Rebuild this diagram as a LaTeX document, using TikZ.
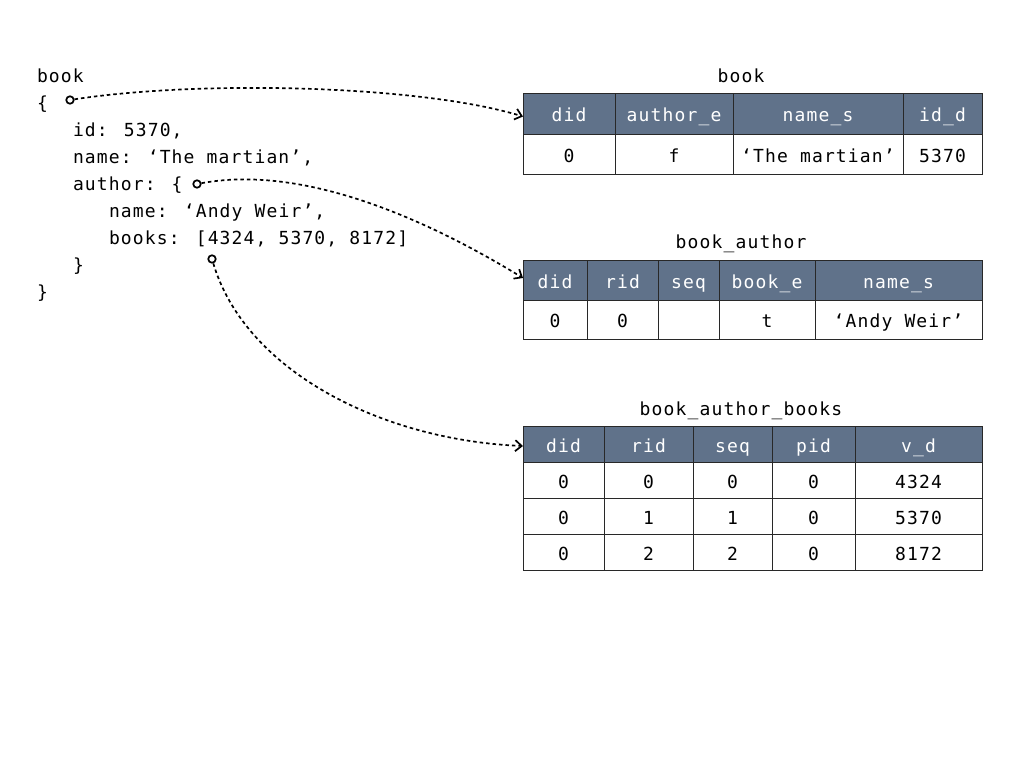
\documentclass[tikz,border=0pt]{standalone}
\usepackage{fontspec}
\setmainfont{DejaVu Sans Mono}[LetterSpace=6.4]
\usetikzlibrary{arrows.meta}
\definecolor{hdr}{RGB}{96,114,138}
\definecolor{linec}{RGB}{40,40,40}
\tikzset{
  txt/.style={font=\fontsize{18}{27}\selectfont, inner sep=0pt, outer sep=0pt},
  codeline/.style={txt, anchor=base west},
  ttitle/.style={txt, anchor=base},
  hcell/.style={txt, draw=linec, line width=0.9pt, fill=hdr, text=white, anchor=north west,
                text height=16pt, text depth=0pt},
  dcell/.style={txt, draw=linec, line width=0.9pt, fill=white, text=black, anchor=north west,
                text height=16pt, text depth=0pt},
  hook/.style={circle, draw=black, line width=1.7pt, minimum size=7.5pt, inner sep=0pt, fill=white},
  link/.style={draw=black, line width=1.7pt, dash pattern=on 3.5pt off 3pt,
               -{Straight Barb[length=6.5pt,width=11pt,line width=1.7pt]}}
}
\begin{document}
\begin{tikzpicture}[x=1pt,y=-1pt]
\useasboundingbox (0,0) rectangle (1024,768);
\fill[white] (0,0) rectangle (1024,768);

% code
\node[codeline] (l1) at (37,82) {book};
\node[codeline] (l2) at (37,109) {\{};
\node[codeline] (l3) at (73,136) {id: 5370,};
\node[codeline] (l4) at (73,163) {name: ‘The martian’,};
\node[codeline] (l5) at (73,190) {author: \{};
\node[codeline] (l6) at (109,217) {name: ‘Andy Weir’,};
\node[codeline] (l7) at (109,244) {books: [4324, 5370, 8172]};
\node[codeline] (l8) at (73,271) {\}};
\node[codeline] (l9) at (37,298) {\}};

% table book
\node[ttitle] (ta-t) at (741,82) {book};
\foreach \x/\w/\h/\d [count=\i] in {523/92/did/0, 615/118/author\_e/f, 733/170/name\_s/{‘The martian’}, 903/79/id\_d/5370} {
  \node[hcell, minimum width=\w, minimum height=41] (ta-h\i) at (\x,93) {\h};
  \node[dcell, minimum width=\w, minimum height=40] (ta-d\i) at (\x,134) {\d};
}

% table book_author
\node[ttitle] (tb-t) at (741,248) {book\_author};
\foreach \x/\w/\h/\d [count=\i] in {523/64/did/0, 587/71/rid/0, 658/61/seq/{}, 719/96/book\_e/t, 815/167/name\_s/{‘Andy Weir’}} {
  \node[hcell, minimum width=\w, minimum height=40] (tb-h\i) at (\x,260) {\h};
  \node[dcell, minimum width=\w, minimum height=39] (tb-d\i) at (\x,300) {\d};
}

% table book_author_books
\node[ttitle] (tc-t) at (741,415) {book\_author\_books};
\foreach \x/\w/\h/\a/\b/\c [count=\i] in {523/81/did/0/0/0, 604/89/rid/0/1/2, 693/79/seq/0/1/2, 772/83/pid/0/0/0, 855/127/v\_d/4324/5370/8172} {
  \node[hcell, minimum width=\w, minimum height=36] (tc-h\i) at (\x,426) {\h};
  \node[dcell, minimum width=\w, minimum height=36] (tc-a\i) at (\x,462) {\a};
  \node[dcell, minimum width=\w, minimum height=36] (tc-b\i) at (\x,498) {\b};
  \node[dcell, minimum width=\w, minimum height=36] (tc-c\i) at (\x,534) {\c};
}

% hooks and links
\node[hook] (c1) at (70,100) {};
\node[hook] (c2) at (197,184) {};
\node[hook] (c3) at (212,259) {};
\coordinate (e1) at ([yshift=-3pt]ta-h1.west);
\coordinate (e2) at ([yshift=2pt]tb-h1.west);
\coordinate (e3) at ([yshift=-2pt]tc-h1.west);
\draw[link] (c1) .. controls (200,80) and (420,85) .. (e1);
\draw[link] (c2) .. controls (300,165) and (420,215) .. (e2);
\draw[link] (c3) .. controls (245,370) and (380,440) .. (e3);
\end{tikzpicture}
\end{document}
